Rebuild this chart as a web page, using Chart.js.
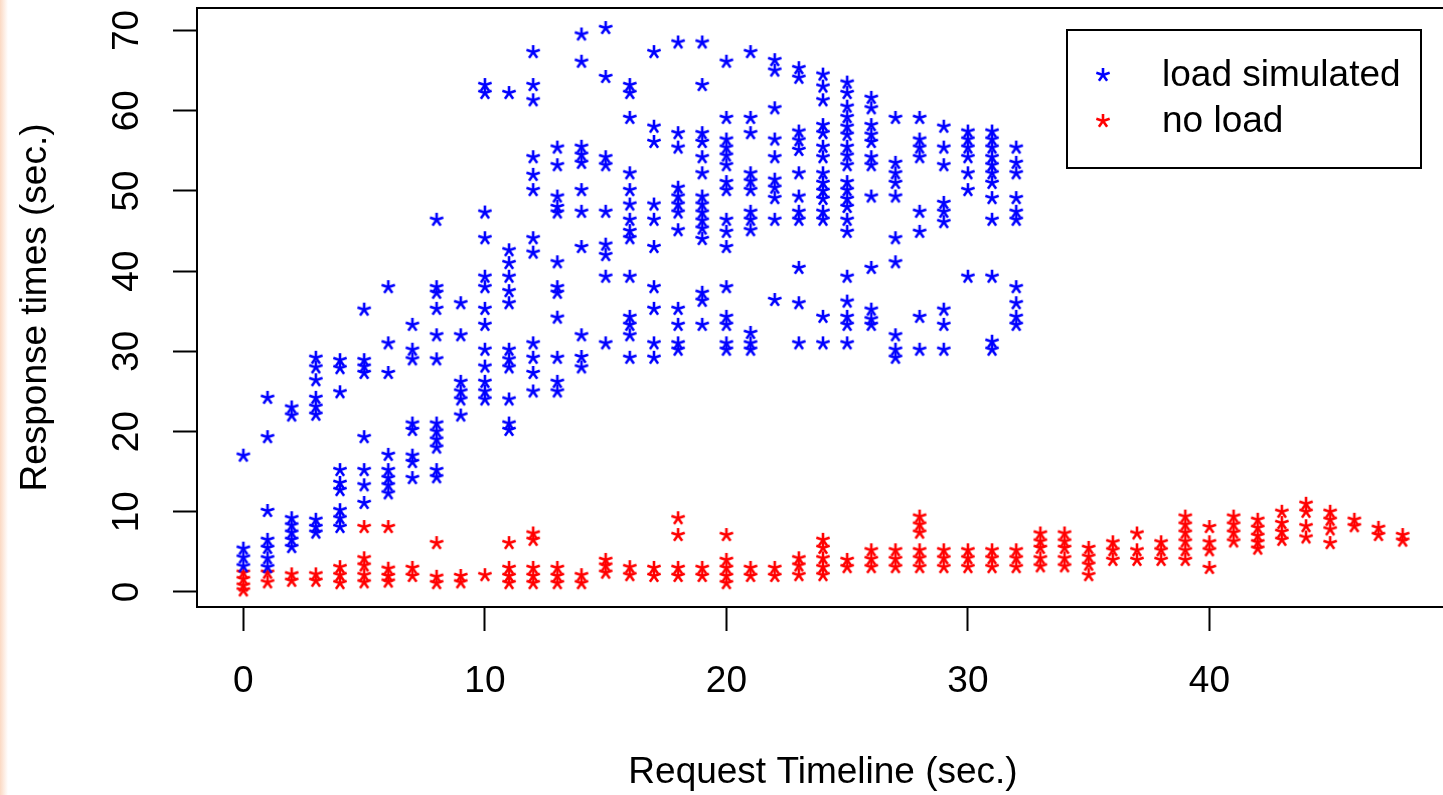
<!DOCTYPE html>
<html>
<head>
<meta charset="utf-8">
<title>Response times</title>
<script src="https://cdn.jsdelivr.net/npm/chart.js@4.4.1/dist/chart.umd.min.js"></script>
<style>
    html, body { margin: 0; padding: 0; background: #fff; overflow: hidden; }
    #borde { position: absolute; left: 0; top: 0; width: 8px; height: 795px; background: linear-gradient(to right, #fbd9c3, #fff); }
    #lienzo { position: absolute; left: 0; top: 0; }
</style>
</head>
<body>
<div id="borde"></div>
<canvas id="lienzo" width="1460" height="795"></canvas>
<script>
// indice = segundo del timeline, valores = tiempos de respuesta (seg.)
const loadSimulated = [
    [17, 5.4, 4.3, 3.2],
    [24.2, 19.3, 10.1, 6.5, 5.5, 4.2, 3.1],
    [23, 22, 9.2, 8.3, 7.4, 6.5, 5.6],
    [29.2, 28, 26.4, 24.2, 23.1, 22.1, 9, 8.1, 7.4],
    [28.9, 27.9, 24.9, 15.2, 13.6, 12.7, 10.2, 9.2, 8.1],
    [35.2, 28.9, 28.1, 27.3, 19.3, 15.2, 13.3, 11.1],
    [38, 31, 27.3, 17.1, 15.2, 14.2, 13.3, 12.3],
    [33.3, 30.2, 29, 21, 20.2, 17, 16.2, 14.2],
    [46.4, 38, 37.3, 35.3, 32, 29, 21, 20, 19, 18, 15.2, 14.3],
    [36, 32, 26.2, 25, 24, 22],
    [63.2, 62.2, 47.3, 44.1, 39.3, 38, 35.3, 33.3, 30.2, 28.1, 26.2, 25, 24],
    [62.2, 42.6, 41, 39.3, 37.5, 36, 30.2, 29, 28, 24, 21, 20.2],
    [67.3, 63.2, 61.3, 54.2, 52, 50.1, 44.1, 42.3, 31, 29.2, 27.3, 25],
    [55.4, 53.2, 49.3, 48, 47.3, 41.1, 38, 37.3, 34.2, 29.2, 26.2, 25],
    [69.5, 66.1, 55.5, 54.5, 53.5, 50.1, 47.4, 43, 32, 29.3, 28],
    [70.3, 64.2, 54.2, 53.2, 47.4, 43.3, 42, 39.3, 31],
    [63.2, 62.2, 59.1, 52.2, 50.1, 48.3, 46.4, 45, 44.1, 39.3, 34.3, 33.3, 32, 29.2],
    [67.3, 58, 56.1, 48.3, 46.4, 43, 38, 35.3, 31, 29.2],
    [68.5, 57.2, 55.4, 50.4, 49.3, 48.3, 47.3, 45.1, 35.3, 33.3, 31, 30.2],
    [68.5, 63.2, 57.2, 56.1, 54.2, 52.2, 49.3, 48.3, 47.3, 46.3, 45.3, 44, 37.3, 36.3, 33.3],
    [66.1, 59.1, 56.4, 55.4, 54.4, 53.2, 51.1, 50.1, 46.4, 44.9, 43, 38, 34.3, 33.3, 31, 30.2],
    [67.3, 59.1, 57.2, 52.2, 51.2, 50.1, 47.4, 46.4, 45.1, 32.3, 31, 30.2],
    [66.3, 65, 60.3, 56.4, 54.2, 51.4, 50.4, 49.1, 46.4, 36.4],
    [65.3, 64.1, 57.4, 56.3, 55.1, 52.2, 49.3, 47.4, 46.4, 40.4, 36, 31],
    [64.5, 63, 61.3, 58.2, 57.2, 55.5, 54.2, 52.2, 51, 50, 49, 47.4, 46.4, 34.3, 31],
    [63.5, 62.2, 60.5, 59.2, 58, 57, 55.5, 54.4, 53.2, 51.1, 50.1, 49, 48, 46.4, 44.9, 39.3, 36.2, 34.3, 33.3, 31],
    [61.6, 60.3, 58.2, 57, 56.1, 54.2, 53.2, 49.3, 40.4, 35.2, 34, 33.3],
    [59.1, 53.5, 52.2, 51, 49.3, 44.1, 41.1, 32, 30.2, 29.2],
    [59.1, 56.4, 55.4, 54.2, 47.4, 44.9, 34.3, 30.2],
    [58, 55.4, 53.2, 48.5, 47.4, 46.1, 35.2, 33.3, 30.2],
    [57.4, 56.4, 55.4, 54.2, 52.2, 50.1, 39.3],
    [57.4, 56.4, 55.4, 54.2, 53.2, 52.2, 51, 49.1, 46.4, 39.3, 31.2, 30.2],
    [55.4, 53.5, 52.2, 49.1, 47.4, 46.4, 38, 36, 34.3, 33.3]
];

const noLoad = [
    [2.4, 1.6, 0.8, 0.2],
    [2.4, 1.2],
    [2.2, 1.4],
    [2.2, 1.4],
    [3.1, 2.1, 1.1],
    [8.1, 4.2, 3.3, 2.1, 1.2],
    [8.1, 2.9, 2, 1.3],
    [3, 2],
    [6.1, 1.9, 1.1],
    [2, 1.2],
    [2.1],
    [6.1, 3, 2, 1.1],
    [7.3, 6.5, 3, 2, 1.1],
    [3, 2, 1.1],
    [2.1, 1.1],
    [4, 3.3, 2.4],
    [3.1, 2.1],
    [3, 2],
    [9.2, 7.1, 3, 2],
    [3, 2],
    [7.1, 4, 3, 2, 1.1],
    [3, 2],
    [3, 2],
    [4.2, 3.3, 2.1],
    [6.5, 5.5, 4.2, 3.1, 2.1],
    [4, 3.1],
    [5.2, 4.1, 3.1],
    [5.2, 4.1, 3.1],
    [9.4, 8.4, 7.4, 5.2, 4.2, 3.1],
    [5.2, 4.2, 3.1],
    [5.2, 4.2, 3.1],
    [5.2, 4.2, 3.1],
    [5.2, 4.2, 3.1],
    [7.3, 6.3, 5.5, 4.2, 3.2],
    [7.3, 6.3, 5.5, 4.2, 3.2],
    [5.5, 4.4, 3.4, 2.1],
    [6.2, 5.2, 4],
    [7.3, 5.2, 4],
    [6.2, 5.2, 4],
    [9.4, 8.4, 7.4, 6.3, 5.2, 4],
    [8.1, 6.2, 5.2, 3],
    [9.4, 8.4, 7.4, 6.3],
    [9, 8, 7, 6.2, 5.4],
    [10, 8.6, 7.5, 6.5],
    [11, 10, 8.2, 6.8],
    [10, 9, 7.8, 6.1],
    [9, 8.2],
    [8, 7.1],
    [7.1, 6.4]
];

const seriesLabels = ['load simulated', 'no load'];
const xTicks = [0, 10, 20, 30, 40];
const yTicks = [0, 10, 20, 30, 40, 50, 60, 70];

const fuente = '"Liberation Sans", Arial, sans-serif';
const tamTexto = 37;

function puntos(columnas) {
    const salida = [];
    columnas.forEach((valores, segundo) => {
        valores.forEach(v => salida.push({ x: segundo, y: v }));
    });
    return salida;
}

// asterisco de 5 brazos como el pch='*' de R
function estrella(color) {
    const c = document.createElement('canvas');
    c.width = 18;
    c.height = 18;
    const g = c.getContext('2d');
    g.strokeStyle = color;
    g.lineWidth = 2.6;
    g.translate(9, 9);
    for (let k = 0; k < 5; k++) {
        const a = k * 2 * Math.PI / 5;
        g.beginPath();
        g.moveTo(0, 0);
        g.lineTo(7 * Math.sin(a), -7 * Math.cos(a));
        g.stroke();
    }
    return c;
}

const marco = {
    id: 'marco',
    afterDraw(chart) {
        const { ctx, chartArea } = chart;
        ctx.save();
        ctx.strokeStyle = '#000';
        ctx.lineWidth = 2;
        ctx.strokeRect(chartArea.left, chartArea.top, chartArea.right - chartArea.left, chartArea.bottom - chartArea.top);
        ctx.restore();
    }
};

const leyenda = {
    id: 'leyenda',
    afterDraw(chart) {
        const ctx = chart.ctx;
        ctx.save();
        ctx.fillStyle = '#fff';
        ctx.fillRect(1067, 30, 354, 138);
        ctx.strokeStyle = '#000';
        ctx.lineWidth = 2;
        ctx.strokeRect(1067, 30, 354, 138);
        ctx.font = tamTexto + 'px ' + fuente;
        ctx.fillStyle = '#000';
        ctx.textBaseline = 'middle';
        chart.data.datasets.forEach((ds, i) => {
            const y = 75 + i * 46;
            const img = ds.pointStyle;
            ctx.drawImage(img, 1103 - img.width / 2, y - img.height / 2);
            ctx.fillText(ds.label, 1162, y + 1);
        });
        ctx.restore();
    }
};

function ejeComun(extra) {
    return Object.assign({
        type: 'linear',
        grid: { drawOnChartArea: false, drawTicks: true, tickLength: 24, tickColor: '#000', tickWidth: 2 },
        border: { display: true, color: '#000', width: 2 },
    }, extra);
}

new Chart(document.getElementById('lienzo'), {
    type: 'scatter',
    data: {
        datasets: [
            { label: seriesLabels[0], data: puntos(loadSimulated), pointStyle: estrella('#0000ff'), pointRadius: 7 },
            { label: seriesLabels[1], data: puntos(noLoad), pointStyle: estrella('#ff0000'), pointRadius: 7 }
        ]
    },
    options: {
        responsive: false,
        animation: false,
        events: [],
        layout: { padding: { left: 0, top: 8, right: 11, bottom: 0 } },
        plugins: { legend: { display: false }, tooltip: { enabled: false } },
        scales: {
            x: ejeComun({
                position: 'bottom',
                min: -1.92,
                max: 49.92,
                afterBuildTicks: s => { s.ticks = xTicks.map(v => ({ value: v })); },
                afterFit: s => { s.height = 188; s.paddingLeft = 0; s.paddingRight = 0; },
                ticks: { color: '#000', font: { family: fuente, size: tamTexto }, padding: 29, maxRotation: 0, autoSkip: false },
                title: { display: true, text: 'Request Timeline (sec.)', color: '#000', font: { family: fuente, size: tamTexto }, padding: { top: 0, bottom: 0 } }
            }),
            y: ejeComun({
                position: 'left',
                min: -1.87,
                max: 72.8,
                afterBuildTicks: s => { s.ticks = yTicks.map(v => ({ value: v })); },
                afterFit: s => { s.width = 197; s.paddingTop = 0; s.paddingBottom = 0; },
                ticks: { color: '#000', font: { family: fuente, size: tamTexto }, padding: 25, minRotation: 90, maxRotation: 90, crossAlign: 'center', autoSkip: false },
                title: { display: true, text: 'Response times (sec.)', color: '#000', font: { family: fuente, size: tamTexto }, padding: { top: 14, bottom: 0 } }
            })
        }
    },
    plugins: [marco, leyenda]
});
</script>
</body>
</html>
